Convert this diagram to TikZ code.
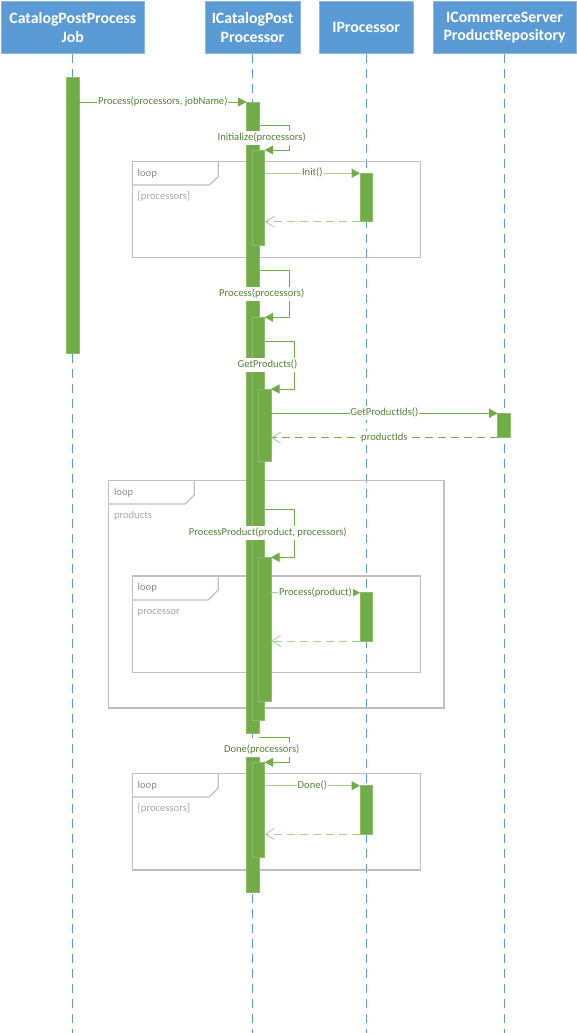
\documentclass[tikz,border=0pt]{standalone}
\usepackage{fontspec}
\setmainfont{Carlito}
\usetikzlibrary{arrows.meta}
\definecolor{hblue}{HTML}{5B9BD5}
\definecolor{bgreen}{HTML}{70AD47}
\definecolor{lgreen}{HTML}{A9D18E}
\definecolor{tgreen}{HTML}{548235}
\definecolor{fgray}{HTML}{BFBFBF}
\definecolor{lgray}{HTML}{8C8C8C}
\definecolor{pgray}{HTML}{A6A6A6}
\begin{document}
\begin{tikzpicture}[x=1pt,y=-1pt,
  head/.style={fill=hblue, draw=hblue!70!white, line width=0.6pt, text=white,
    font=\fontsize{15.8}{18.3}\selectfont\bfseries, align=center, inner sep=0pt,
    minimum height=51.6pt},
  lifeline/.style={draw=hblue, line width=1pt, dash pattern=on 9pt off 6pt},
  actbar/.style={fill=bgreen, draw=bgreen!80!white, line width=0.5pt, inner sep=0pt,
    outer sep=0pt, anchor=north west},
  msg/.style={draw=bgreen, line width=1pt, -{Triangle[length=8.5pt,width=9pt,color=bgreen]}},
  lmsg/.style={draw=lgreen, line width=1pt, -{Triangle[length=8.5pt,width=9pt,color=bgreen]}},
  ret/.style={draw=bgreen, line width=1pt, dash pattern=on 8pt off 5pt,
    -{Straight Barb[length=9pt,width=11pt,color=lgreen,line width=0.8pt]}},
  lret/.style={draw=lgreen, line width=1pt, dash pattern=on 8pt off 5pt,
    -{Straight Barb[length=9pt,width=11pt,color=lgreen,line width=0.8pt]}},
  lbl/.style={font=\fontsize{10.6}{12}\selectfont, text=tgreen, fill=white,
    inner xsep=0.6pt, inner ysep=2pt, text height=7.5pt, text depth=2.5pt},
  frame/.style={draw=fgray, line width=1.2pt},
  looptxt/.style={font=\fontsize{10.6}{12}\selectfont, text=lgray, anchor=west,
    inner sep=0pt, text height=7.5pt, text depth=2.5pt},
  guardtxt/.style={font=\fontsize{10.6}{12}\selectfont, text=pgray, anchor=west,
    inner sep=0pt, text height=7.5pt, text depth=2.5pt}
]
\useasboundingbox (0,0) rectangle (577,1033);

% headers
\node[head, minimum width=142.3pt] (h1) at (72.85,27.5) {CatalogPostProcess\\Job};
\node[head, minimum width=95pt] (h2) at (252.5,27.5) {ICatalogPost\\Processor};
\node[head, minimum width=94.3pt] (h3) at (366.2,27.5) {IProcessor};
\node[head, minimum width=142.7pt] (h4) at (504.6,27.5) {ICommerceServer\\ProductRepository};

% lifelines
\coordinate (e1) at (72.85,1033);
\coordinate (e2) at (252.5,1033);
\coordinate (e3) at (366.7,1033);
\coordinate (e4) at (504.3,1033);
\draw[lifeline] (h1.south) -- (e1);
\draw[lifeline] (h2.south) -- (e2);
\draw[lifeline] (h3.south -| e3) -- (e3);
\draw[lifeline] (h4.south -| e4) -- (e4);

% loop frames
\draw[frame] (132.7,161.7) rectangle (420.7,257.7);
\draw[frame] (132.7,185) -- (209.3,185) -- (218.3,176.7) -- (218.3,161.7);
\node[looptxt] (f1a) at (137.5,174) {loop};
\node[guardtxt] (f1b) at (137.5,196.7) {[processors]};

\draw[frame] (108.3,480.3) rectangle (444,708);
\draw[frame] (108.3,504) -- (185,504) -- (194.3,495) -- (194.3,480.3);
\node[looptxt] (f2a) at (113.8,492.7) {loop};
\node[guardtxt] (f2b) at (113.8,515.7) {products};

\draw[frame] (132.3,576) rectangle (420.7,672.3);
\draw[frame] (132.3,600) -- (208.3,600) -- (218.3,590) -- (218.3,576);
\node[looptxt] (f3a) at (137.5,587.7) {loop};
\node[guardtxt] (f3b) at (137.5,611.7) {processor};

\draw[frame] (132.7,773.3) rectangle (420.7,870);
\draw[frame] (132.7,797) -- (209.3,797) -- (218.3,788) -- (218.3,773.3);
\node[looptxt] (f4a) at (137.5,785.7) {loop};
\node[guardtxt] (f4b) at (137.5,808.7) {[processors]};

% activation bars
\node[actbar, minimum width=12.3pt, minimum height=275.3pt] (jobbar) at (66.7,77.7) {};
\node[actbar, minimum width=12.5pt, minimum height=631pt] (mainA) at (246.5,102) {};
\node[actbar, minimum width=12.5pt, minimum height=135.7pt] (mainB) at (246.5,757) {};
\node[actbar, minimum width=12.4pt, minimum height=95.7pt] (initN) at (252.3,150) {};
\node[actbar, minimum width=12.4pt, minimum height=402.7pt] (procN) at (252.3,317.3) {};
\node[actbar, minimum width=12.3pt, minimum height=72pt] (getN) at (258.7,389) {};
\node[actbar, minimum width=12.3pt, minimum height=143.7pt] (ppN) at (258.7,557.3) {};
\node[actbar, minimum width=12.4pt, minimum height=95pt] (doneN) at (252.3,762.3) {};
\node[actbar, minimum width=12.7pt, minimum height=48.4pt] (ipInit) at (360,173.3) {};
\node[actbar, minimum width=12.7pt, minimum height=48.3pt] (ipProc) at (360,592.7) {};
\node[actbar, minimum width=12.7pt, minimum height=48.3pt] (ipDone) at (360,785.7) {};
\node[actbar, minimum width=13pt, minimum height=24.4pt] (repo) at (497.7,413.3) {};

% messages
\draw[msg] (jobbar.east |- mainA.north west) -- node[lbl] (m1) {Process(processors, jobName)} (mainA.north west);

\draw[msg] (mainA.east |- 0,125.7) -| ([xshift=24.3pt]initN.north east) -- (initN.north east);
\node[lbl] (m2) at (261.7,138) {Initialize(processors)};

\draw[lmsg] (initN.east |- ipInit.north) -- node[lbl] (m3) {Init()} (ipInit.north west);
\draw[lret] (ipInit.south west) -- (initN.east |- ipInit.south);

\draw[msg] (mainA.east |- 0,270) -| ([xshift=24.3pt]procN.north east) -- (procN.north east);
\node[lbl] (m4) at (261.7,294) {Process(processors)};

\draw[msg] (procN.east |- 0,341.7) -| ([xshift=23.3pt]getN.north east) -- (getN.north east);
\node[lbl] (m5) at (267.5,365) {GetProducts()};

\draw[msg] (getN.east |- repo.north) -- node[lbl] (m6) {GetProductIds()} (repo.north west);
\draw[ret] (repo.south west) -- node[lbl] (m7) {productIds} (getN.east |- repo.south);

\draw[msg] (procN.east |- 0,509) -| ([xshift=23.3pt]ppN.north east) -- (ppN.north east);
\node[lbl] (m8) at (267.8,533) {ProcessProduct(product, processors)};

\draw[lmsg] (ppN.east |- ipProc.north) -- node[lbl] (m9) {Process(product)} (ipProc.north west);
\draw[lret] (ipProc.south west) -- (ppN.east |- ipProc.south);

\draw[msg] (mainA.east |- 0,737.7) -| ([xshift=24.3pt]doneN.north east) -- (doneN.north east);
\node[lbl] (m10) at (261.7,750) {Done(processors)};

\draw[lmsg] (doneN.east |- ipDone.north) -- node[lbl] (m11) {Done()} (ipDone.north west);
\draw[lret] (ipDone.south west) -- (doneN.east |- ipDone.south);
\end{tikzpicture}
\end{document}
